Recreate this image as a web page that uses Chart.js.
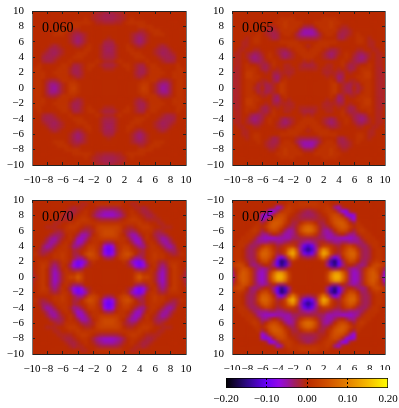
<!DOCTYPE html>
<html>
<head>
<meta charset="utf-8">
<title>Density maps</title>
<script src="https://cdn.jsdelivr.net/npm/chart.js@4"></script>
<style>
    html, body { margin: 0; padding: 0; background: #fff; }
    canvas { position: absolute; }
</style>
</head>
<body>
<canvas id="panelA" width="199" height="189" style="left:0;top:0"></canvas>
<canvas id="panelB" width="199" height="189" style="left:200px;top:0"></canvas>
<canvas id="panelC" width="199" height="189" style="left:0;top:189px"></canvas>
<canvas id="panelD" width="199" height="181" style="left:200px;top:189px"></canvas>
<canvas id="colorBar" width="199" height="38" style="left:200px;top:370px"></canvas>
<script>
const axisTicks = [-10, -8, -6, -4, -2, 0, 2, 4, 6, 8, 10];
const barTicks = [-0.2, -0.1, 0, 0.1, 0.2];
const panelLabels = ['0.060', '0.065', '0.070', '0.075'];

// upper right quarter of each map in units of 0.01
// rows go y = 10 .. 0, columns x = 0 .. 10, both in steps of 0.5
// the maps are mirror symmetric so the other three quarters are reflections
const map060 = [
    [-1.5,-1.5,-1,-1,0,0,0,0,0,0,0,0,0,0,0,0,0,0,0,0,0],
    [-2.5,-2.5,-2,-1.5,-1,0,0,0,0,0,0,0,0,0,0,0,0,0,0,0,0],
    [-2.5,-2.5,-2,-1.5,-1,0,1,0,0,0,0,0,0,0,0,0,0,0,0,0,0],
    [-1.5,-1.5,-1,-1,0,1,1,1,1,1,0,0,0,0,0,0,0,0,0,0,0],
    [0,0,0,0,0,0,0,0,1,1,1,1,0,0,0,0,0,0,0,0,0],
    [0,0,0,0,0,0,0,0,-1,-1,0,1,1,1,0,0,0,0,0,0,0],
    [0,0,0,0,0,0,-1,-2,-2.5,-2,-1,0,1,1,1,0,0,0,0,0,0],
    [-1,0,0,0,0,0,-1,-2.5,-3.5,-2.5,-1,0,0,0,0,0,0,0,0,0,0],
    [-2,-2,0,0,0,0,-1,-2.5,-3.5,-2.5,-1,0,0,0,0,0,0,0,0,0,0],
    [-2.5,-2.5,-1,0,0,1,0,-1,-2,-1,0,0,0,-1,-2,-1,0,0,0,0,0],
    [-3,-2.5,-1,0,0,1,1,0,0,0,0,0,-1,-2,-2.5,-2.5,-1,0,0,0,0],
    [-2.5,-2.5,-1,0,0,0,1,1,1,0,0,0,-1,-2,-3,-2.5,-2,-1,0,0,0],
    [-2,-2,-1,0,0,0,0,1,1,1,0,0,0,-1,-2,-2.5,-2.5,-2,0,0,0],
    [-1,-1,0,1,0,0,0,0,0,0,1,0,0,0,-1,-2,-2,-1.5,0,0,0],
    [-2,-2,-1,0,1,1,0,-1,-2,-2,0,1,1,0,0,0,0,0,1,0,0],
    [-1,-1,0,0,0,1,0,-1,-2.5,-2.5,-1,1,1,1,0,0,0,0,1,1,0],
    [0,0,0,0,0,0,0,-1.5,-2.5,-2.5,-1,1,1,1,1,0,0,1,1,1,0],
    [0,0,0,0,0,0,0,-1,-2,-1,0,1,1,1,0,0,0,1,1,1,0],
    [0,0,0,0,0,0,0,0,0,1,1,1,1,-1,-2,-2,-1,0,1,1,0],
    [0,0,0,0,0,0,0,0,1,2,2,0,-1,-3,-4,-4,-2,0,1,1,0],
    [0,0,0,0,0,0,0,0,1,3,2,0,-1,-3,-5,-4,-2,0,1,1,0]
];
const map065 = [
    [0,0,0,0,0,0,0,0,0,0,0,0,0,0,0,0,0,0,0,0,0],
    [0,0,0,0,0,0,0,0,0,0,0,0,0,0,0,0,0,0,0,0,0],
    [0,0,0,0,1,1,1,1,0,0,0,0,0,0,0,0,0,0,0,0,0],
    [0,0,1,1,1,1,2,1,1,0,0,0,0,0,0,0,0,0,0,0,0],
    [-2,-2,0,1,1,1,2,1,0,-1,-1,0,0,0,0,0,0,0,0,0,0],
    [-5,-5,-3,0,1,1,1,1,-1,-2,-2,-1,0,0,0,0,0,0,0,0,0],
    [-5,-5,-4,-2,0,1,1,0,-2,-2.5,-2,-1,0,1,0,0,0,0,0,0,0],
    [-2,-2,-2,-1,0,0,0,0,-2,-2.5,-1,0,0,1,1,0,-1,0,0,0,0],
    [0,0,0,1,1,1,1,1,0,0,0,0,0,1,1,0,-1,-1,0,0,0],
    [-1,0,1,1,1,1,0,0,0,0,0,0,0,0,0,0,-1,-1,0,0,0],
    [0,1,1,1,0,-1,-2,-2,-1,0,0,0,0,-1,-1,0,0,-1,-1,0,0],
    [1,1,1,0,-1,-2.5,-3.5,-2.5,-1,0,1,0,-1,-2.5,-3,-2,-1,0,-1,-1,0],
    [1,1,0,0,-1,-2,-3,-2,0,0,1,0,-2,-3,-4,-3,-1,0,-1,-1,0],
    [0,-1,0,0,0,0,0,0,0,1,0,-1,-2,-3,-3,-2,0,0,-1,-1,0],
    [-2,-2,-1,0,0,-1,-1,0,0,1,-1,-2.5,-2,-1,0,0,1,0,-1,-1,0],
    [-1,-1,-1,0,-1,-1,-1,0,-1,0,-1,-2.5,-2,0,1,1,1,0,-1,-1.5,0],
    [0,0,0,0,-1,-1.5,-1,-1,-2,-2,0,-1,0,0,1,2,2,0,-1,-1.5,-1],
    [0,0,0,0,0,-1,0,-1,-3.5,-2.5,0,0,0,1,1,2,2,0,-1,-1.5,-1],
    [0,0,0,0,0,0,1,0,-3,-2,0,-1,-1,0,1,1,1,0,-1,-1.5,-1],
    [0,0,0,0,0,0,1,2,0,-1,-2,-2.5,-1,-2,0,1,1,0,-1,-1.5,-1],
    [0,0,0,0,0,0,1,2,0,-1,-2.5,-2.5,0,-2,-1,1,1,0,-1,-1.5,-1]
];
const map070 = [
    [0,0,0,0,0,0,0,0,0,0,0,0,0,0,0,0,0,0,0,0,0],
    [1,1,1,1,0,0,-1,-1,0,0,0,0,0,0,0,0,0,0,0,0,0],
    [-2,-2,-2,-1,0,0,0,-1,-1,-2,-1,0,0,0,0,0,0,0,0,0,0],
    [-5,-5,-4,-3,-1,0,1,0,-1,-2,-2,-1,0,0,0,0,0,0,0,0,0],
    [-6,-6,-5,-4,-2,0,1,1,0,-1,-2,-2,-1,0,0,0,0,0,0,0,0],
    [-2,-2,-2,-1,0,1,2,2,1,0,-1,-1,-1,-1,0,0,0,0,0,0,0],
    [1,1,1,1,1,1,1,1,2,1,1,0,0,-1,-1,0,0,0,0,0,0],
    [3,3,3,2,0,-1,-1,0,1,2,2,1,0,0,-1,-1,-1,0,0,0,0],
    [4,4,3,2,-1,-2,-3,-2,0,1,1,1,-1,-2,-1,0,0,0,0,0,0],
    [4,4,3,1,0,-3,-5,-5,-2,0,1,0,-2,-3,-3,-2,0,0,0,0,0],
    [2,2,2,1,1,-1,-4,-6,-5,-1,1,0,-1,-3,-5,-4,-2,0,0,0,0],
    [-3,-2,0,1,1,0,-2,-5,-6,-3,0,1,0,-2,-4,-5,-3,-1,0,0,0],
    [-9,-7,-1,1,2,2,0,-2,-4,-4,-1,1,1,0,-2,-4,-5,-3,0,0,0],
    [-10,-8,-2,1,3,3,1,0,-1,-2,0,1,1,1,0,-2,-3,-3,-1,0,0],
    [-9,-7,-2,2,4,5,3,0,-2,-2,0,1,2,1,1,0,-1,-2,-1,1,0],
    [-3,-2,0,2,3,3,-1,-4,-4,-2,0,1,2,1,1,0,0,0,0,0,0],
    [0,0,0,0,1,-1,-5,-8,-9,-6,-1,1,1,-1,-2,-1,1,1,1,0,0],
    [0,0,0,0,0,-1,-3,-7,-9,-7,-3,0,1,-2,-4,-2,1,2,1,0,0],
    [0,0,0,0,0,0,0,-2,-3,-3,-1,1,0,-3,-5,-3,0,2,1,0,-1],
    [0,0,0,0,0,0,0,2,3,1,1,1,-1,-4,-6,-3,0,2,1,0,-2],
    [0,0,0,0,0,0,0,3,6,3,3,1,-1,-4,-6,-3,0,2,1,-1,-2]
];
const map075 = [
    [0,0,0,0,0,0,0,0,0,0,0,0,0,0,0,0,0,0,0,0,0],
    [2,2,2,1,1,1,0,0,0,0,0,0,0,0,0,0,0,0,0,0,0],
    [1,1,1,1,1,2,1,-4,-6,-1,0,0,0,0,0,0,0,0,0,0,0],
    [-3,-2,-1,0,1,2,2,1,-3,-7,-8,-1,0,0,0,0,0,0,0,0,0],
    [-3,-3,-2,-1,0,1,3,4,3,-1,-6,-8,-6,0,0,0,0,0,0,0,0],
    [-2,-2,-2,-1,-1,0,3,5,5,4,1,-4,-7,0,0,0,0,0,0,0,0],
    [3,2,0,-2,-2,0,2,5,6,6,4,0,-2,1,0,0,0,0,0,0,0],
    [7,6,3,-1,-3,-2,0,3,5,6,5,2,0,1,1,0,0,0,0,0,0],
    [8,7,4,-1,-4,-5,-3,0,3,4,3,0,-2,1,2,1,0,0,0,0,0],
    [4,3,1,-2,-4,-5,-5,-3,-1,0,-2,-4,-4,-1,1,1,1,0,0,0,0],
    [-2,-2,-2,-3,-3,-5,-5,-5,-5,-6,-6,-6,-5,-4,-1,1,1,1,0,0,0],
    [-5,-4,-3,-1,-1,-2,-3,-4,-4,-3,-3,-4,-4,-4,-3,-1,1,1,1,0,0],
    [-12,-10,-4,-1,2,2,1,-1,-2,0,2,3,1,-2,-3,-3,-1,1,1,0,0],
    [-15,-12,-5,5,11,8,2,0,-1,1,4,6,5,1,-2,-3,-2,0,1,1,0],
    [-11,-9,-3,7,14,11,3,-1,-2,2,5,7,7,3,-2,-3,-2,0,1,1,0],
    [-3,-2,-1,4,9,4,-4,-9,-5,0,4,6,6,2,-2,-3,-2,0,1,1,0],
    [0,0,0,0,1,-3,-13,-16,-10,-3,1,4,3,0,-3,-3,-1,1,2,1,1],
    [0,0,0,0,0,-4,-12,-15,-10,-4,-1,0,-1,-3,-4,-3,0,3,4,3,1],
    [0,0,0,0,0,0,-2,-3,-2,0,-2,-4,-5,-4,-2,1,4,5,3,1,-3],
    [0,0,0,0,0,2,8,12,12,7,2,-4,-6,-5,-2,2,5,6,4,0,-6],
    [0,0,0,0,0,3,10,14,14,9,3,-4,-6,-5,-2,2,5,6,5,-1,-7]
];

const paletteStops = [
    [-0.20, [0, 0, 0]],
    [-0.15, [44, 8, 130]],
    [-0.10, [104, 0, 248]],
    [-0.07, [146, 8, 232]],
    [-0.05, [152, 18, 170]],
    [-0.03, [160, 30, 95]],
    [0.00, [184, 42, 0]],
    [0.05, [208, 80, 0]],
    [0.10, [228, 128, 0]],
    [0.15, [246, 186, 0]],
    [0.20, [255, 255, 0]]
];

Chart.defaults.font.family = '"Liberation Serif", serif';
Chart.defaults.font.size = 11;
Chart.defaults.color = '#000';

function colourAt(v)
{
    for(let i = 1; i < paletteStops.length; i++) {
        const [v0, c0] = paletteStops[i - 1];
        const [v1, c1] = paletteStops[i];
        if(v <= v1) {
            const t = Math.max(0, (v - v0) / (v1 - v0));
            const c = c0.map((p, k) => Math.round(p + (c1[k] - p) * t));
            return `rgb(${c[0]},${c[1]},${c[2]})`;
        }
    }
    return 'rgb(255,255,0)';
}

function withMinus(value, digits)
{
    return (value < 0 ? '\u2212' : '') + Math.abs(value).toFixed(digits);
}

function unfold(quarter)
{
    const cells = [];
    for(let j = -20; j <= 20; j++) {
        for(let i = -20; i <= 20; i++) {
            const row = quarter[20 - Math.abs(j)];
            cells.push({x: i / 2, y: j / 2, v: row[Math.abs(i)] / 100});
        }
    }
    return cells;
}

// soften the square cells, the original map is a smooth image
const smoothCells = {
    id: 'smoothCells',
    afterDatasetsDraw(chart) {
        const a = chart.chartArea;
        const ctx = chart.ctx;
        ctx.save();
        ctx.beginPath();
        ctx.rect(a.left, a.top, a.width, a.height);
        ctx.clip();
        ctx.filter = 'blur(1.6px)';
        ctx.drawImage(chart.canvas, a.left, a.top, a.width, a.height, a.left, a.top, a.width, a.height);
        ctx.restore();
    }
};

const panelText = {
    id: 'panelText',
    afterDraw(chart) {
        const o = chart.options.plugins.panelText;
        const ctx = chart.ctx;
        ctx.save();
        ctx.font = '14px "Liberation Serif", serif';
        ctx.fillStyle = '#000';
        ctx.textAlign = 'left';
        ctx.fillText(o.text, chart.scales.x.getPixelForValue(-8.7), chart.scales.y.getPixelForValue(o.flip ? -7.3 : 7.3));
        ctx.restore();
    }
};

function flatAxis(position, size, padding, showLabels, flip)
{
    const isX = position === 'top' || position === 'bottom';
    return {
        type: 'linear',
        position: position,
        min: -10,
        max: 10,
        reverse: !!flip,
        border: {color: isX ? '#222' : '#777', width: 1, z: 1},
        grid: {drawOnChartArea: false, tickLength: -3, color: '#222', z: 1},
        ticks: {
            display: showLabels,
            padding: padding,
            autoSkip: false,
            maxRotation: 0,
            callback: v => withMinus(v, 0)
        },
        afterBuildTicks: s => { s.ticks = axisTicks.map(v => ({value: v})); },
        afterFit: s => {
            if(isX) s.height = size; else s.width = size;
            s.paddingLeft = s.paddingRight = s.paddingTop = s.paddingBottom = 0;
        }
    };
}

function drawPanel(id, quarter, text, box, flip)
{
    return new Chart(document.getElementById(id), {
        type: 'scatter',
        data: {
            datasets: [{
                data: unfold(quarter),
                pointStyle: 'rect',
                pointRadius: 3.1,
                pointHoverRadius: 3.1,
                borderWidth: 0,
                backgroundColor: c => colourAt(c.raw ? c.raw.v : 0)
            }]
        },
        options: {
            responsive: false,
            animation: false,
            events: [],
            layout: {padding: {left: 0, top: box.top, right: box.right, bottom: 0}},
            scales: {
                x: flatAxis('bottom', box.below, 12, true),
                y: flatAxis('left', box.left, 11, true, flip),
                x2: flatAxis('top', 0, 0, false),
                y2: flatAxis('right', 0, 0, false)
            },
            plugins: {
                legend: {display: false},
                tooltip: {enabled: false},
                panelText: {text: text, flip: flip}
            }
        },
        plugins: [smoothCells, panelText]
    });
}

drawPanel('panelA', map060, panelLabels[0], {left: 32, top: 11, right: 13, below: 24});
drawPanel('panelB', map065, panelLabels[1], {left: 32, top: 11, right: 14, below: 24});
drawPanel('panelC', map070, panelLabels[2], {left: 32, top: 11, right: 13, below: 24});
drawPanel('panelD', map075, panelLabels[3], {left: 32, top: 11, right: 14, below: 16}, true);

new Chart(document.getElementById('colorBar'), {
    type: 'bar',
    data: {
        labels: ['colour'],
        datasets: [{
            data: [[barTicks[0], barTicks[barTicks.length - 1]]],
            barPercentage: 1,
            categoryPercentage: 1,
            borderColor: '#000',
            borderWidth: 1,
            borderSkipped: false,
            backgroundColor: c => {
                const a = c.chart.chartArea;
                if(!a) return '#000';
                const g = c.chart.ctx.createLinearGradient(a.left, 0, a.right, 0);
                paletteStops.forEach(([v]) => g.addColorStop((v + 0.2) / 0.4, colourAt(v)));
                return g;
            }
        }]
    },
    options: {
        indexAxis: 'y',
        responsive: false,
        animation: false,
        events: [],
        layout: {padding: {left: 26, top: 8, right: 11, bottom: 0}},
        scales: {
            x: {
                type: 'linear',
                min: barTicks[0],
                max: barTicks[barTicks.length - 1],
                border: {display: false, dash: [2, 2]},
                grid: {
                    color: c => Math.abs(c.tick.value) > 0.15 ? 'rgba(0,0,0,0)' : '#000',
                    drawTicks: false,
                    z: 1
                },
                ticks: {
                    padding: 5,
                    autoSkip: false,
                    maxRotation: 0,
                    callback: v => withMinus(v, 2)
                },
                afterBuildTicks: s => { s.ticks = barTicks.map(v => ({value: v})); },
                afterFit: s => {
                    s.height = 20;
                    s.paddingLeft = s.paddingRight = 0;
                }
            },
            y: {display: false}
        },
        plugins: {
            legend: {display: false},
            tooltip: {enabled: false}
        }
    }
});
</script>
</body>
</html>
